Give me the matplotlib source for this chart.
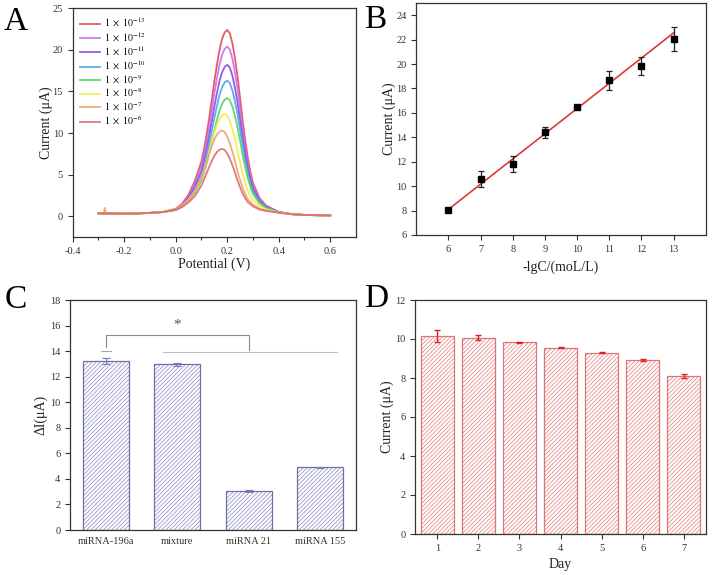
import matplotlib
matplotlib.use("Agg")
import matplotlib.pyplot as plt
import numpy as np

plt.rcParams['font.family'] = ['Liberation Serif', 'DejaVu Serif']
plt.rcParams['mathtext.fontset'] = 'stix'
plt.rcParams['hatch.linewidth'] = 0.6

# ---------------- Panel A data: DPV curves ----------------
potential = [-0.30, -0.28, -0.275, -0.27, -0.20, -0.15, -0.10, -0.05,
             0.00, 0.025, 0.05, 0.075,
             0.10, 0.11, 0.12, 0.13, 0.14, 0.15, 0.16, 0.17, 0.18, 0.19, 0.20,
             0.21, 0.22, 0.23, 0.24, 0.25, 0.26, 0.27, 0.28, 0.29, 0.30,
             0.325, 0.35, 0.40, 0.45, 0.50, 0.55, 0.60]

cur_13 = [0.35, 0.33, 0.33, 0.33, 0.30, 0.33, 0.40, 0.50,
          0.90, 1.50, 2.60, 4.30,
          6.60, 8.10, 9.80, 11.80, 14.00, 16.20, 18.20, 20.00, 21.30, 22.10, 22.40,
          22.00, 20.80, 19.00, 16.80, 14.20, 11.50, 9.10, 7.00, 5.30, 4.00,
          2.20, 1.30, 0.50, 0.25, 0.15, 0.12, 0.10]
cur_12 = [0.35, 0.33, 0.33, 0.33, 0.30, 0.33, 0.40, 0.50,
          0.85, 1.41, 2.41, 3.94,
          6.04, 7.41, 8.95, 10.76, 12.76, 14.77, 16.59, 18.23, 19.40, 20.12, 20.40,
          20.04, 18.94, 17.31, 15.31, 12.94, 10.48, 8.31, 6.40, 4.86, 3.68,
          2.05, 1.23, 0.50, 0.25, 0.15, 0.12, 0.10]
cur_11 = [0.35, 0.33, 0.33, 0.33, 0.30, 0.33, 0.40, 0.50,
          0.81, 1.30, 2.19, 3.56,
          5.42, 6.64, 8.01, 9.63, 11.40, 13.19, 14.81, 16.27, 17.31, 17.95, 18.20,
          17.88, 16.90, 15.45, 13.67, 11.56, 9.38, 7.44, 5.74, 4.37, 3.33,
          1.87, 1.14, 0.49, 0.25, 0.15, 0.12, 0.10]
cur_10 = [0.35, 0.33, 0.33, 0.33, 0.30, 0.33, 0.40, 0.50,
          0.77, 1.21, 2.00, 3.22,
          4.89, 5.98, 7.20, 8.64, 10.23, 11.83, 13.27, 14.57, 15.51, 16.08, 16.30,
          16.01, 15.14, 13.84, 12.26, 10.37, 8.42, 6.69, 5.17, 3.95, 3.02,
          1.72, 1.07, 0.48, 0.25, 0.15, 0.12, 0.10]
cur_9 = [0.35, 0.33, 0.33, 0.33, 0.30, 0.33, 0.40, 0.50,
         0.73, 1.11, 1.80, 2.86,
         4.30, 5.25, 6.31, 7.56, 8.93, 10.32, 11.57, 12.70, 13.51, 14.01, 14.20,
         13.95, 13.20, 12.07, 10.69, 9.06, 7.37, 5.87, 4.55, 3.49, 2.68,
         1.55, 0.99, 0.47, 0.25, 0.15, 0.12, 0.10]
cur_8 = [0.35, 0.33, 0.33, 0.33, 0.30, 0.33, 0.40, 0.50,
         0.82, 1.26, 1.98, 3.02,
         4.59, 5.50, 6.58, 7.76, 8.96, 10.04, 11.01, 11.71, 12.13, 12.30, 12.09,
         11.43, 10.46, 9.28, 7.87, 6.41, 5.12, 3.98, 3.07, 2.37, 1.98,
         1.21, 0.83, 0.45, 0.25, 0.15, 0.12, 0.10]
cur_7 = [0.35, 0.35, 1.00, 0.35, 0.30, 0.33, 0.40, 0.50,
         0.86, 1.32, 2.03, 3.01,
         4.65, 5.54, 6.53, 7.52, 8.42, 9.23, 9.81, 10.16, 10.30, 10.12, 9.58,
         8.77, 7.79, 6.62, 5.40, 4.33, 3.39, 2.63, 2.05, 1.72, 1.40,
         0.91, 0.70, 0.43, 0.25, 0.15, 0.12, 0.10]
cur_6 = [0.35, 0.33, 0.33, 0.33, 0.30, 0.33, 0.40, 0.50,
         0.77, 1.12, 1.67, 2.44,
         3.71, 4.41, 5.17, 5.94, 6.64, 7.27, 7.72, 7.99, 8.10, 7.96, 7.54,
         6.91, 6.15, 5.24, 4.30, 3.46, 2.73, 2.14, 1.69, 1.44, 1.18,
         0.81, 0.64, 0.42, 0.25, 0.15, 0.12, 0.10]

curve_labels = [r'$1\ \times\ 10^{-13}$', r'$1\ \times\ 10^{-12}$', r'$1\ \times\ 10^{-11}$',
                r'$1\ \times\ 10^{-10}$', r'$1\ \times\ 10^{-9}$', r'$1\ \times\ 10^{-8}$',
                r'$1\ \times\ 10^{-7}$', r'$1\ \times\ 10^{-6}$']
curve_colors = ['#e8474f', '#c66ff0', '#8a4be0', '#4fa3e6', '#52d65a',
                '#f2ee4a', '#f0a070', '#e06a70']

# ---------------- Panel B data: calibration ----------------
neg_log_c = [6, 7, 8, 9, 10, 11, 12, 13]
calib_current = [8.02, 10.6, 11.8, 14.42, 16.49, 18.67, 19.84, 22.05]
calib_err = [0.08, 0.65, 0.65, 0.46, 0.12, 0.76, 0.75, 0.97]
fit_x = [6, 13]
fit_y = [8.1, 22.55]

# ---------------- Panel C data: selectivity ----------------
sel_labels = ['miRNA-196a', 'mixture', 'miRNA 21', 'miRNA 155']
sel_values = [13.23, 12.97, 3.05, 4.90]
sel_err = [0.26, 0.12, 0.05, 0.03]

# ---------------- Panel D data: stability ----------------
days = [1, 2, 3, 4, 5, 6, 7]
day_values = [10.17, 10.07, 9.83, 9.56, 9.30, 8.94, 8.09]
day_err = [0.30, 0.13, 0.02, 0.03, 0.04, 0.05, 0.09]

W, H = 708, 573
fig = plt.figure(figsize=(W / 100, H / 100), dpi=100)


def ax_px(l, t, r, b):
    return fig.add_axes([l / W, 1 - b / H, (r - l) / W, (b - t) / H])


tick_kw = dict(direction='out', labelsize=7.5, colors='#333333', length=3.5, width=0.8)
lab_fs = 10
spine_c = '#333333'


def style(ax):
    for s in ax.spines.values():
        s.set_color(spine_c)
        s.set_linewidth(0.9)
    ax.tick_params(which='both', **tick_kw)
    ax.tick_params(which='minor', length=2)


# ---- A ----
axA = ax_px(72.7, 8.3, 356, 237)
series = [cur_13, cur_12, cur_11, cur_10, cur_9, cur_8, cur_7, cur_6]
for ys, lab, col in zip(series, curve_labels, curve_colors):
    axA.plot(potential, ys, color=col, lw=1.3, label=lab, alpha=0.9)
axA.set_xlim(-0.4, 0.7)
axA.set_ylim(-2.5, 25)
axA.set_xticks([-0.4, -0.2, 0.0, 0.2, 0.4, 0.6])
axA.set_xticks([-0.3, -0.1, 0.1, 0.3, 0.5], minor=True)
axA.set_xticklabels(['-0.4', '-0.2', '0.0', '0.2', '0.4', '0.6'])
axA.set_yticks([0, 5, 10, 15, 20, 25])
style(axA)
axA.set_xlabel('Potential (V)', fontsize=lab_fs, color='#222222', labelpad=1)
axA.set_ylabel('Current (μA)', fontsize=lab_fs, color='#222222', labelpad=0)
axA.legend(loc='upper left', bbox_to_anchor=(0.0, 0.995), frameon=False, fontsize=7,
           handlelength=2.1, handletextpad=0.4, labelspacing=0.12, borderaxespad=0.3)

# ---- B ----
axB = ax_px(416.3, 3, 705.7, 235)
axB.plot(fit_x, fit_y, color='#d93a3a', lw=1.2, zorder=2)
axB.errorbar(neg_log_c, calib_current, yerr=calib_err, fmt='s', color='black',
             ms=4.5, ecolor='#222222', elinewidth=0.9, capsize=2.5, capthick=0.9, zorder=3)
axB.set_xlim(5, 14)
axB.set_ylim(6, 25)
axB.set_xticks(neg_log_c)
axB.set_yticks(range(6, 25, 2))
style(axB)
axB.set_xlabel('-lgC/(moL/L)', fontsize=lab_fs, color='#222222', labelpad=5)
axB.set_ylabel('Current (μA)', fontsize=lab_fs, color='#222222', labelpad=0)

# ---- C ----
axC = ax_px(70, 300, 356, 530)
xc = np.arange(1, len(sel_labels) + 1)
axC.bar(xc, sel_values, width=0.65, color='white', edgecolor='#9a9ac8', hatch='////////',
        linewidth=0, zorder=2)
axC.bar(xc, sel_values, width=0.65, fill=False, edgecolor='#6e6ea8', linewidth=0.9, zorder=3)
axC.errorbar(xc, sel_values, yerr=sel_err, fmt='none', ecolor='#7a7ac8', elinewidth=0.8,
             capsize=3, capthick=0.8, zorder=4)
# significance bracket
axC.plot([1, 1, 3.01, 3.01], [14.35, 15.26, 15.26, 14.1], color='#8a8a8a', lw=0.8, zorder=4)
axC.plot([0.93, 1.07], [14.04, 14.04], color='#aaaaaa', lw=0.8, zorder=4)
axC.plot([1.8, 4.23], [13.9, 13.9], color='#c0c0c0', lw=0.8, zorder=4)
axC.text(2.0, 15.5, '*', ha='center', va='bottom', fontsize=11, color='#555555')
axC.set_xlim(0.5, 4.5)
axC.set_ylim(0, 18)
axC.set_xticks(xc)
axC.set_xticklabels(sel_labels)
axC.set_yticks(range(0, 19, 2))
style(axC)
axC.tick_params(axis='x', length=0, pad=5)
axC.set_ylabel('ΔI(μA)', fontsize=lab_fs, color='#222222', labelpad=2)

# ---- D ----
axD = ax_px(415, 300, 705.7, 534)
axD.bar(days, day_values, width=0.8, color='white', edgecolor='#e89090', hatch='////////',
        linewidth=0, zorder=2)
axD.bar(days, day_values, width=0.8, fill=False, edgecolor='#e07575', linewidth=0.9, zorder=3)
axD.errorbar(days, day_values, yerr=day_err, fmt='none', ecolor='#e02020', elinewidth=1.0,
             capsize=2.5, capthick=1.0, zorder=4)
axD.set_xlim(0.46, 7.53)
axD.set_ylim(0, 12)
axD.set_xticks(days)
axD.set_yticks(range(0, 13, 2))
style(axD)
axD.set_xlabel('Day', fontsize=lab_fs, color='#222222', labelpad=4)
axD.set_ylabel('Current (μA)', fontsize=lab_fs, color='#222222', labelpad=1)

# panel letters
for letter, x, y in [('A', 4, 30), ('B', 364, 28), ('C', 5, 308), ('D', 364, 307)]:
    fig.text(x / W, 1 - y / H, letter, fontsize=24, va='baseline', ha='left', color='black')

fig.savefig('out.png', dpi=100)
